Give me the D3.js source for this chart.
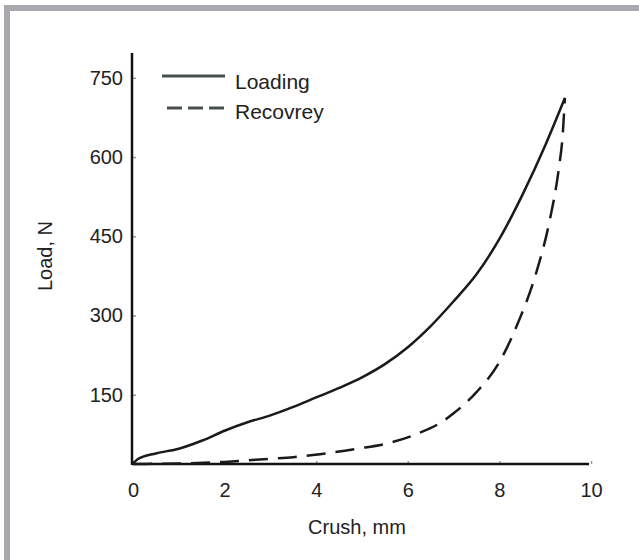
<!DOCTYPE html>
<html>
<head>
<meta charset="utf-8">
<script src="https://cdn.jsdelivr.net/npm/d3@7"></script>
<style>
  html, body { margin: 0; padding: 0; background: #fff; }
  svg { display: block; font-family: "Liberation Sans", Arial, sans-serif; }
</style>
</head>
<body>
<svg id="chart" width="639" height="560"></svg>
<script>
// ---- data ----
const loadingCrush = [0, 0.1, 0.5, 1.0, 1.5, 2.0, 2.5, 3.0, 3.5, 4.0, 4.5, 5.0, 5.5, 6.0, 6.5, 7.0, 7.5, 8.0, 8.5, 9.0, 9.43];
const loadingLoad  = [20, 28, 39, 48, 63, 82, 98, 111, 127, 145, 163, 183, 208, 240, 280, 327, 378, 445, 528, 622, 712];
const recoveryCrush = [0, 1.0, 2.0, 3.0, 3.5, 4.2, 4.9, 5.6, 6.2, 6.75, 7.0, 7.5, 8.0, 8.4, 8.8, 9.1, 9.3, 9.38, 9.43];
const recoveryLoad  = [19, 20, 23, 29, 32, 39, 48, 59, 76, 99, 115, 155, 212, 285, 380, 481, 580, 640, 712];
const xTicks = [0, 2, 4, 6, 8, 10];
const yTicks = [150, 300, 450, 600, 750];
const seriesNames = ["Loading", "Recovrey"];
const xTitle = "Crush, mm";
const yTitle = "Load, N";

const svg = d3.select("#chart");

// frame (grey band at top and left)
svg.append("rect").attr("x", 4).attr("y", 5).attr("width", 635).attr("height", 6).attr("fill", "#a7a9ac");
svg.append("rect").attr("x", 4).attr("y", 5).attr("width", 6).attr("height", 555).attr("fill", "#a7a9ac");

const x = d3.scaleLinear().domain([0, 10]).range([133, 591]);
const y = d3.scaleLinear().domain([19, 797]).range([464, 53]);

// axes
const xAxis = svg.append("g").attr("transform", `translate(0,${y(19)})`)
  .call(d3.axisBottom(x).tickValues(xTicks).tickSize(-3).tickPadding(19).tickFormat(d3.format("d")));
const yAxis = svg.append("g").attr("transform", `translate(${x(0)},0)`)
  .call(d3.axisLeft(y).tickValues(yTicks).tickSize(-3).tickPadding(10).tickFormat(d3.format("d")));

[xAxis, yAxis].forEach(g => {
  g.select(".domain").remove();
  g.selectAll(".tick line").attr("stroke", "#999").attr("stroke-width", 1.5);
  g.selectAll(".tick text").attr("font-size", 20).attr("fill", "#222")
    .attr("font-family", "'Liberation Sans', Arial, sans-serif");
});
xAxis.selectAll(".tick text").attr("dy", "0.71em");

// axis lines
svg.append("line").attr("x1", x(0) - 1).attr("x2", 589).attr("y1", y(19)).attr("y2", y(19))
  .attr("stroke", "#111").attr("stroke-width", 2.5);
svg.append("line").attr("x1", x(0) - 1).attr("x2", x(0) - 1).attr("y1", y(797)).attr("y2", y(19) + 1)
  .attr("stroke", "#111").attr("stroke-width", 2.5);

// curves
const line = d3.line().x(d => x(d[0])).y(d => y(d[1])).curve(d3.curveMonotoneX);
const loadingData = loadingCrush.map((c, i) => [c, loadingLoad[i]]);
const recoveryData = recoveryCrush.map((c, i) => [c, recoveryLoad[i]]);

svg.append("path").datum(loadingData).attr("d", line)
  .attr("fill", "none").attr("stroke", "#1a1a1a").attr("stroke-width", 2.5);
svg.append("path").datum(recoveryData).attr("d", line)
  .attr("fill", "none").attr("stroke", "#1a1a1a").attr("stroke-width", 2.5)
  .attr("stroke-dasharray", "19,10");

// legend
const legend = svg.append("g");
legend.append("line").attr("x1", 162).attr("x2", 225).attr("y1", 76).attr("y2", 76)
  .attr("stroke", "#4a5050").attr("stroke-width", 3);
legend.append("line").attr("x1", 167).attr("x2", 225).attr("y1", 108).attr("y2", 108)
  .attr("stroke", "#4a5050").attr("stroke-width", 3).attr("stroke-dasharray", "15,6");
legend.selectAll("text.lg").data(seriesNames).enter().append("text")
  .attr("x", 235).attr("y", (d, i) => 89 + i * 30)
  .attr("font-size", 21).attr("fill", "#222").text(d => d);

// titles
svg.append("text").attr("x", 357).attr("y", 527).attr("dy", "0.35em").attr("text-anchor", "middle")
  .attr("font-size", 20).attr("fill", "#222").text(xTitle);
svg.append("text").attr("transform", "translate(45,256) rotate(-90)").attr("dy", "0.35em")
  .attr("text-anchor", "middle").attr("font-size", 20).attr("fill", "#222").text(yTitle);
</script>
</body>
</html>
